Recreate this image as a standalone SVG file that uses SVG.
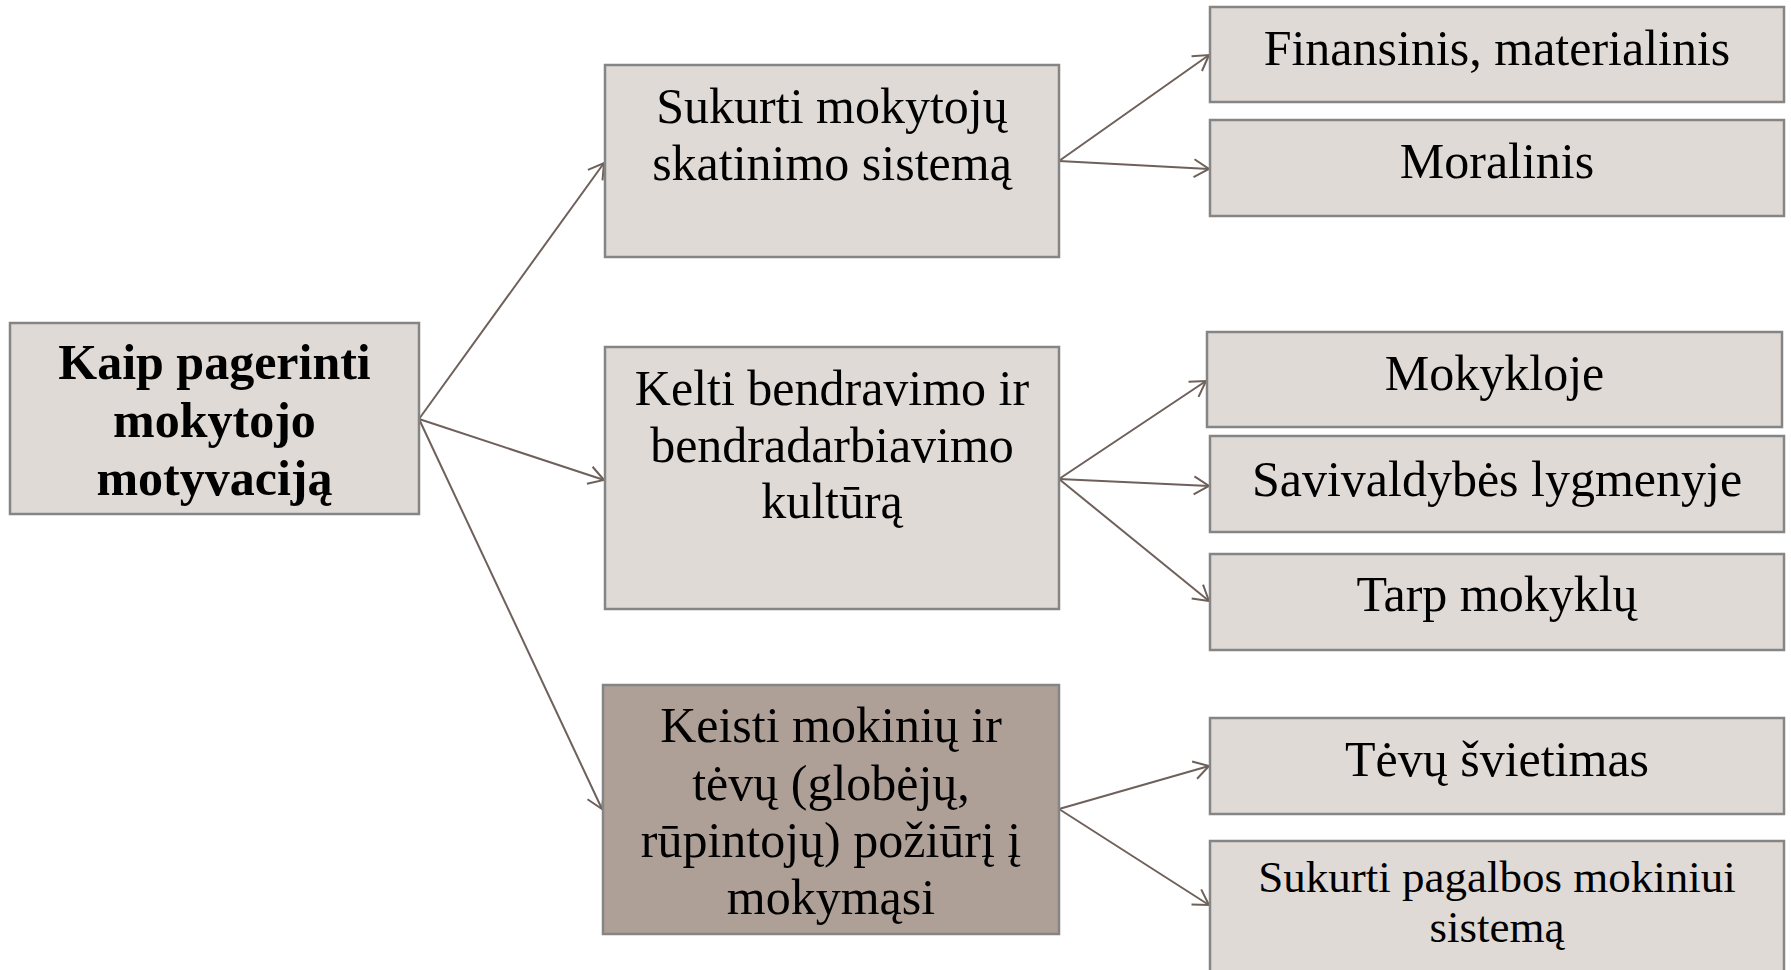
<svg xmlns="http://www.w3.org/2000/svg" width="1791" height="970" viewBox="0 0 1791 970">
<style>
.box{fill:#dfdad6;stroke:#858585;stroke-width:2.5}
.dark{fill:#afa097}
.t{font-family:"Liberation Serif","Times New Roman",serif;font-size:50px;fill:#000;text-anchor:middle}
.b{font-weight:bold}
.s{font-size:45px}
.c{stroke:#6e605a;stroke-width:2;fill:none}
</style>
<defs>
<marker id="ar" markerUnits="userSpaceOnUse" markerWidth="30" markerHeight="30" viewBox="-20 -15 30 30" refX="0" refY="0" orient="auto">
<path d="M-15,-9 L0,0 L-15,9" fill="none" stroke="#6e605a" stroke-width="2"/>
</marker>
</defs>
<rect width="1791" height="970" fill="#fff"/>
<g id="connectors">
<line class="c" x1="419" y1="419" x2="604" y2="163" marker-end="url(#ar)"/>
<line class="c" x1="419" y1="419" x2="604" y2="480" marker-end="url(#ar)"/>
<line class="c" x1="419" y1="419" x2="602" y2="809" marker-end="url(#ar)"/>
<line class="c" x1="1059" y1="161" x2="1209" y2="55" marker-end="url(#ar)"/>
<line class="c" x1="1059" y1="161" x2="1209" y2="169" marker-end="url(#ar)"/>
<line class="c" x1="1059" y1="479" x2="1206" y2="381" marker-end="url(#ar)"/>
<line class="c" x1="1059" y1="479" x2="1209" y2="486" marker-end="url(#ar)"/>
<line class="c" x1="1059" y1="479" x2="1209" y2="601" marker-end="url(#ar)"/>
<line class="c" x1="1059" y1="809" x2="1209" y2="766" marker-end="url(#ar)"/>
<line class="c" x1="1059" y1="809" x2="1209" y2="905" marker-end="url(#ar)"/>
</g>
<g id="root">
<rect class="box" x="10" y="323" width="409" height="191"/>
<text class="t b" x="214.5" y="379">Kaip pagerinti</text>
<text class="t b" x="214.5" y="437">mokytojo</text>
<text class="t b" x="214.5" y="495">motyvaciją</text>
</g>
<g id="nodeA">
<rect class="box" x="605" y="65" width="454" height="192"/>
<text class="t" x="832" y="123">Sukurti mokytojų</text>
<text class="t" x="832" y="180">skatinimo sistemą</text>
</g>
<g id="nodeB">
<rect class="box" x="605" y="347" width="454" height="262"/>
<text class="t" x="832" y="405">Kelti bendravimo ir</text>
<text class="t" x="832" y="462">bendradarbiavimo</text>
<text class="t" x="832" y="518">kultūrą</text>
</g>
<g id="nodeC">
<rect class="box dark" x="603" y="685" width="456" height="249"/>
<text class="t" x="831" y="742">Keisti mokinių ir</text>
<text class="t" x="831" y="800">tėvų (globėjų,</text>
<text class="t" x="831" y="857">rūpintojų) požiūrį į</text>
<text class="t" x="831" y="914">mokymąsi</text>
</g>
<g id="finansinis">
<rect class="box" x="1210" y="7" width="574" height="95"/>
<text class="t" x="1497" y="65">Finansinis, materialinis</text>
</g>
<g id="moralinis">
<rect class="box" x="1210" y="120" width="574" height="96"/>
<text class="t" x="1497" y="178">Moralinis</text>
</g>
<g id="mokykloje">
<rect class="box" x="1207" y="332" width="575" height="95"/>
<text class="t" x="1494.5" y="390">Mokykloje</text>
</g>
<g id="savivaldybes">
<rect class="box" x="1210" y="436" width="574" height="96"/>
<text class="t" x="1497" y="496">Savivaldybės lygmenyje</text>
</g>
<g id="tarp">
<rect class="box" x="1210" y="554" width="574" height="96"/>
<text class="t" x="1497" y="611">Tarp mokyklų</text>
</g>
<g id="tevu">
<rect class="box" x="1210" y="718" width="574" height="96"/>
<text class="t" x="1497" y="776">Tėvų švietimas</text>
</g>
<g id="pagalbos">
<rect class="box" x="1210" y="841" width="574" height="140"/>
<text class="t s" x="1497" y="892">Sukurti pagalbos mokiniui</text>
<text class="t s" x="1497" y="942">sistemą</text>
</g>
</svg>
